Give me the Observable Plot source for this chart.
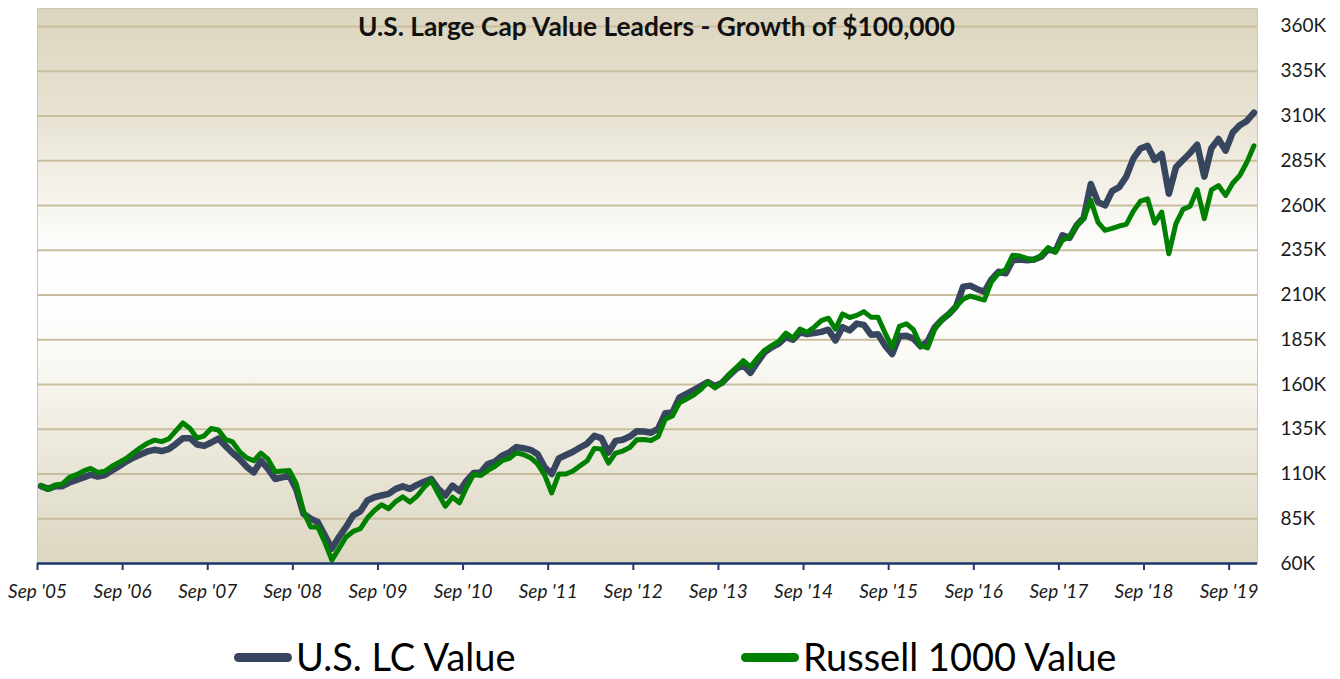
<!DOCTYPE html>
<html>
<head>
<meta charset="utf-8">
<script src="https://cdn.jsdelivr.net/npm/d3@7"></script>
<script src="https://cdn.jsdelivr.net/npm/@observablehq/plot@0.6"></script>
<style>
  html, body { margin: 0; padding: 0; background: #ffffff; }
  #wrap { position: relative; width: 1340px; height: 679px; }
  #legend { position: absolute; left: 0; top: 633px; height: 46px; width: 1340px;
            font-family: Lato, "Open Sans", sans-serif; font-size: 38px; line-height: normal; color: #000; }
  .item { display: flex; align-items: center; position: absolute; top: 0; height: 46px; white-space: nowrap; }
  .sw { display: inline-block; width: 58px; height: 9px; border-radius: 5px; margin-right: 4px; margin-top: 3px; }
</style>
</head>
<body>
<div id="wrap">
  <div id="chart"></div>
  <div id="legend"></div>
</div>
<script>
// ---- data (values in dollars, monthly, first point Sep 2005) ----
const seriesNames = ["U.S. LC Value", "Russell 1000 Value"];
const seriesColors = ["#37465e", "#008000"];

const lcValueK = [
103.2,101.7,103.2,103.2,105.2,106.7,108.1,109.6,108.5,109.4,111.9,114.3,
116.9,119.1,120.9,122.6,123.5,122.8,123.9,126.7,130.0,130.0,126.5,125.7,
127.6,129.8,125.7,121.7,118.3,114.0,110.9,117.4,112.8,107.2,108.1,109.1,
101.1,87.8,85.0,83.2,75.7,68.3,74.8,80.4,86.9,89.1,95.2,97.0,
98.0,98.9,101.7,103.1,101.7,103.9,105.7,107.2,101.7,98.0,103.5,100.5,
106.3,110.6,110.9,115.6,117.0,120.2,122.0,125.0,124.4,123.5,121.1,113.7,
110.0,118.7,120.6,122.4,124.8,127.0,131.3,130.0,122.0,128.5,129.1,130.9,
133.9,133.7,133.0,135.4,143.9,144.3,152.6,154.8,156.9,159.1,161.3,159.1,
160.9,165.0,168.7,170.9,166.5,172.4,177.9,180.7,182.8,186.5,185.0,189.1,
188.1,188.7,189.4,190.6,184.6,192.0,190.2,194.0,193.3,187.8,188.0,181.7,
177.0,186.9,187.2,185.6,181.3,184.1,192.0,196.1,199.4,203.5,214.6,215.2,
213.2,211.8,218.7,223.0,222.0,229.4,229.8,229.4,229.8,231.3,235.5,234.4,
243.3,241.9,248.9,253.1,272.0,261.9,260.0,268.0,270.2,276.1,286.3,291.8,
293.3,285.4,288.7,266.5,281.3,285.4,289.3,293.9,276.1,292.0,297.1,290.6,
300.7,304.8,307.2,311.8
];

const r1000ValueK = [
103.5,101.3,103.9,104.4,108.1,109.6,111.7,113.1,110.9,111.5,114.3,116.5,
118.7,121.7,124.6,127.2,128.9,128.1,129.6,134.1,138.5,135.4,130.0,131.3,
135.4,134.6,129.4,127.9,122.4,119.0,117.4,121.7,118.3,111.3,111.7,112.0,
104.4,89.1,80.4,80.4,72.0,61.9,68.3,74.8,77.9,79.4,85.4,89.6,
92.8,90.6,94.6,97.2,94.3,97.6,102.6,106.3,98.9,92.0,97.0,93.9,
102.6,109.8,109.1,112.0,114.3,117.4,118.7,121.8,120.9,119.1,115.6,109.4,
99.4,110.0,110.0,111.7,114.6,117.4,124.3,123.9,116.1,121.7,122.8,124.8,
129.1,129.3,128.7,130.9,140.6,142.4,149.8,151.9,154.1,157.2,161.3,158.1,
160.9,165.6,169.3,173.3,169.8,174.8,179.1,181.7,184.1,188.7,185.9,190.9,
189.1,192.0,195.7,197.0,190.9,199.4,197.4,198.6,200.7,197.6,197.6,188.7,
180.7,192.4,193.9,190.6,181.7,180.4,190.9,196.1,199.4,203.5,207.6,209.4,
208.2,207.2,217.4,222.0,224.3,232.2,231.7,230.4,229.4,232.2,236.5,233.9,
240.6,242.4,248.9,252.6,262.8,250.7,246.1,247.2,248.5,249.4,256.8,262.4,
263.7,250.2,256.3,233.0,249.8,257.8,259.6,268.9,252.6,268.7,271.1,265.6,
272.4,276.7,284.1,293.3
];

const xTickLabels = ["Sep '05","Sep '06","Sep '07","Sep '08","Sep '09","Sep '10","Sep '11",
  "Sep '12","Sep '13","Sep '14","Sep '15","Sep '16","Sep '17","Sep '18","Sep '19"];
const yTicks = [60000,85000,110000,135000,160000,185000,210000,235000,260000,285000,310000,335000,360000];
const titleText = "U.S. Large Cap Value Leaders - Growth of $100,000";

// ---- build tables ----
const monthsPerTick = 12;
const xTickPos = xTickLabels.map((_, i) => i * monthsPerTick);
const nMonths = lcValueK.length;
const rows = [];
lcValueK.forEach((v, i) => rows.push({series: seriesNames[0], x: i + 0.5, v: v * 1000}));
r1000ValueK.forEach((v, i) => rows.push({series: seriesNames[1], x: i + 0.5, v: v * 1000}));

const chart = Plot.plot({
  width: 1340,
  height: 620,
  marginLeft: 37,
  marginRight: 83,
  marginTop: 8,
  marginBottom: 57,
  style: {fontFamily: "Lato, 'Open Sans', sans-serif", background: "transparent", overflow: "visible"},
  x: {type: "linear", domain: [0, nMonths]},
  y: {domain: [60000, 370000]},
  marks: [
    Plot.frame({fill: "url(#bgGrad)", stroke: "#cfc7aa", strokeWidth: 1}),
    Plot.gridY(yTicks, {stroke: "#c8be9d", strokeOpacity: 1, strokeWidth: 2}),
    Plot.line(rows.filter(d => d.series === seriesNames[0]), {x: "x", y: "v", stroke: seriesColors[0], strokeWidth: 6.5}),
    Plot.line(rows.filter(d => d.series === seriesNames[1]), {x: "x", y: "v", stroke: seriesColors[1], strokeWidth: 5}),
    Plot.ruleY([60000], {stroke: "#1f3a70", strokeWidth: 2.5}),
    Plot.axisX({ticks: xTickPos, tickFormat: d => xTickLabels[xTickPos.indexOf(d)], tickSize: 7,
      tickPadding: 14, stroke: "#1f3a70", strokeWidth: 2, fontSize: 19, fontStyle: "italic", fill: "#1a1a1a", label: null}),
    Plot.axisY({anchor: "right", ticks: yTicks, tickFormat: d => (d / 1000) + "K", tickSize: 0,
      tickPadding: 23, fontSize: 19, fill: "#1a1a1a", label: null}),
    Plot.text([titleText], {frameAnchor: "top", dy: 9, dx: 9, fontWeight: "bold", fontSize: 26.3, fill: "#111"})
  ]
});

// vertical gradient background
const ns = "http://www.w3.org/2000/svg";
const defs = document.createElementNS(ns, "defs");
const grad = document.createElementNS(ns, "linearGradient");
grad.setAttribute("id", "bgGrad");
grad.setAttribute("x1", "0"); grad.setAttribute("y1", "0");
grad.setAttribute("x2", "0"); grad.setAttribute("y2", "1");
[["0", "#dcd5bf"], ["0.2", "#e8e3d3"], ["0.44", "#fefefd"], ["0.52", "#ffffff"], ["0.62", "#fbfaf6"], ["0.8", "#ebe7da"], ["1", "#dcd7c1"]]
  .forEach(([o, c]) => {
    const s = document.createElementNS(ns, "stop");
    s.setAttribute("offset", o); s.setAttribute("stop-color", c);
    grad.appendChild(s);
  });
defs.appendChild(grad);
chart.insertBefore(defs, chart.firstChild);
document.getElementById("chart").appendChild(chart);

// legend
const legend = document.getElementById("legend");
const legendLeft = [234, 741];
seriesNames.forEach((name, i) => {
  const it = document.createElement("div");
  it.className = "item";
  it.style.left = legendLeft[i] + "px";
  const sw = document.createElement("span");
  sw.className = "sw";
  sw.style.background = seriesColors[i];
  it.appendChild(sw);
  it.appendChild(document.createTextNode(name));
  legend.appendChild(it);
});
</script>
</body>
</html>
